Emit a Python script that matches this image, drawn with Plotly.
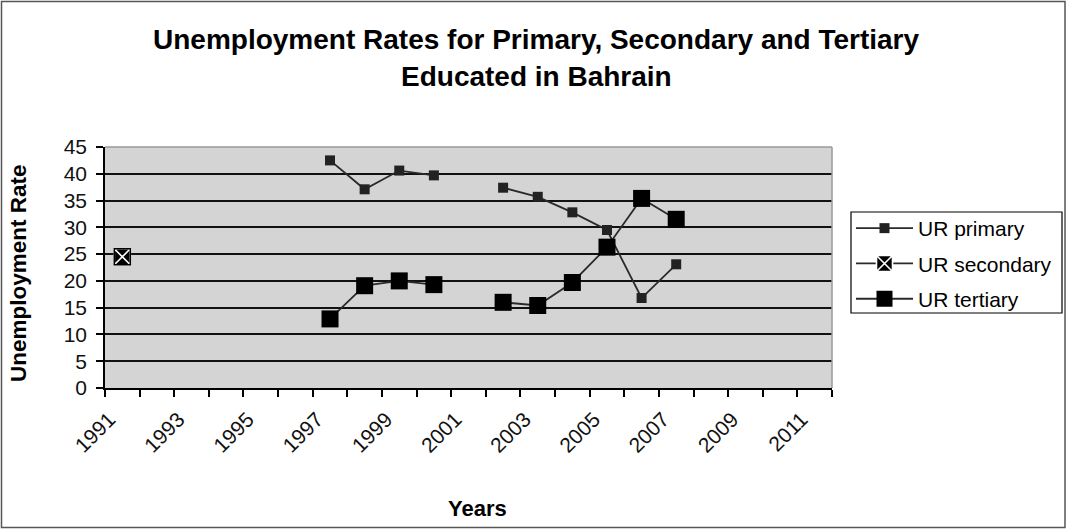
import plotly.graph_objects as go

# Category years shown on the x axis
years = list(range(1991, 2012))
label_years = [y for y in years if y % 2 == 1]

# Unemployment rates (%) by education level; None marks a missing year
primary_years = [1997, 1998, 1999, 2000, 2001, 2002, 2003, 2004, 2005, 2006, 2007]
primary_rate = [42.5, 37.1, 40.6, 39.7, None, 37.4, 35.7, 32.8, 29.5, 16.8, 23.1]

secondary_years = [1991]
secondary_rate = [24.5]

tertiary_years = [1997, 1998, 1999, 2000, 2001, 2002, 2003, 2004, 2005, 2006, 2007]
tertiary_rate = [12.9, 19.1, 20.0, 19.3, None, 16.0, 15.4, 19.7, 26.3, 35.4, 31.5]

title_lines = ["Unemployment Rates for Primary, Secondary and Tertiary",
               "Educated in Bahrain"]

W, H = 1067, 529
ML, MR, MT, MB = 105, 235, 147, 141
PW, PH = W - ML - MR, H - MT - MB

FONT = "Liberation Sans, Arial, sans-serif"
LINE_C = "#2a2a2a"


def px_x(px):
    return (px - ML) / PW


def px_y(py):
    return (PH + MT - py) / PH


fig = go.Figure()

fig.add_trace(go.Scatter(
    x=primary_years, y=primary_rate, name="UR primary", legendgroup="p",
    mode="lines+markers", connectgaps=False,
    line=dict(color=LINE_C, width=1.8),
    marker=dict(symbol="square", size=10, color="#222222"),
))

fig.add_trace(go.Scatter(
    x=secondary_years, y=secondary_rate, name="UR secondary", legendgroup="s",
    mode="lines+markers",
    line=dict(color=LINE_C, width=1.8),
    marker=dict(symbol="square-x", size=16, color="black",
                line=dict(color="white", width=1.6)),
))
# dark outline around the secondary marker
fig.add_trace(go.Scatter(
    x=secondary_years, y=secondary_rate, mode="markers", showlegend=False,
    legendgroup="s",
    marker=dict(symbol="square-open", size=16, color="black",
                line=dict(color="black", width=1.5)),
    hoverinfo="skip",
))

fig.add_trace(go.Scatter(
    x=tertiary_years, y=tertiary_rate, name="UR tertiary", legendgroup="t",
    mode="lines+markers", connectgaps=False,
    line=dict(color=LINE_C, width=1.8),
    marker=dict(symbol="square", size=17, color="black"),
))

# plot-area border (gray top and right edges), legend frame and outer chart frame
shapes = [
    dict(type="line", xref="paper", yref="paper", x0=0, x1=1, y0=1, y1=1,
         line=dict(color="#9a9a9a", width=1.5), layer="above"),
    dict(type="line", xref="paper", yref="paper", x0=1, x1=1, y0=0, y1=1,
         line=dict(color="#9a9a9a", width=1.5), layer="above"),
    dict(type="rect", xref="paper", yref="paper",
         x0=px_x(851), x1=px_x(1062), y0=px_y(313), y1=px_y(212),
         line=dict(color="black", width=1.2)),
    dict(type="rect", xref="paper", yref="paper",
         x0=px_x(1.5), x1=px_x(1065), y0=px_y(527.5), y1=px_y(1.5),
         line=dict(color="#555555", width=1.5)),
]

annotations = [
    dict(text="<b>%s</b>" % title_lines[0], showarrow=False,
         xref="paper", yref="paper", x=px_x(536), y=px_y(39),
         xanchor="center", yanchor="middle",
         font=dict(family=FONT, size=28, color="black")),
    dict(text="<b>%s</b>" % title_lines[1], showarrow=False,
         xref="paper", yref="paper", x=px_x(536), y=px_y(77),
         xanchor="center", yanchor="middle",
         font=dict(family=FONT, size=28, color="black")),
    dict(text="<b>Unemployment Rate</b>", textangle=-90, showarrow=False,
         xref="paper", yref="paper", x=px_x(18), y=px_y(273),
         xanchor="center", yanchor="middle",
         font=dict(family=FONT, size=22.5, color="black")),
    dict(text="<b>Years</b>", showarrow=False,
         xref="paper", yref="paper", x=px_x(477), y=px_y(508),
         xanchor="center", yanchor="middle",
         font=dict(family=FONT, size=22, color="black")),
]

fig.update_layout(
    width=W, height=H,
    margin=dict(l=ML, r=MR, t=MT, b=MB, autoexpand=False),
    paper_bgcolor="white",
    plot_bgcolor="#d4d4d4",
    font=dict(family=FONT, color="#111111"),
    showlegend=True,
    legend=dict(
        x=px_x(851), y=px_y(208), xanchor="left", yanchor="top",
        bgcolor="rgba(0,0,0,0)", borderwidth=0,
        font=dict(family=FONT, size=21, color="black"),
        itemwidth=57, tracegroupgap=5, traceorder="grouped",
    ),
    shapes=shapes,
    annotations=annotations,
)

fig.update_xaxes(
    type="linear", range=[1990.5, 2011.5],
    tickmode="array", tickvals=label_years, ticktext=[str(y) for y in label_years],
    tickangle=-45, ticks="", showgrid=False, zeroline=False,
    showline=True, linecolor="black", linewidth=1.5,
    tickfont=dict(family=FONT, size=21, color="#111111"),
    ticklabelstandoff=9, ticklabelshift=-13,
    minor=dict(tickmode="linear", tick0=1990.5, dtick=1, ticks="outside",
               ticklen=7, tickcolor="black", tickwidth=1.5, showgrid=False),
)

fig.update_yaxes(
    range=[0, 45], tickmode="linear", tick0=0, dtick=5,
    showgrid=True, gridcolor="#111111", gridwidth=1.5, zeroline=False,
    showline=True, linecolor="black", linewidth=1.5,
    ticks="outside", ticklen=7, tickcolor="black", tickwidth=1.5,
    ticklabelstandoff=5,
    tickfont=dict(family=FONT, size=21, color="#111111"),
)

fig.write_html("out.html")
